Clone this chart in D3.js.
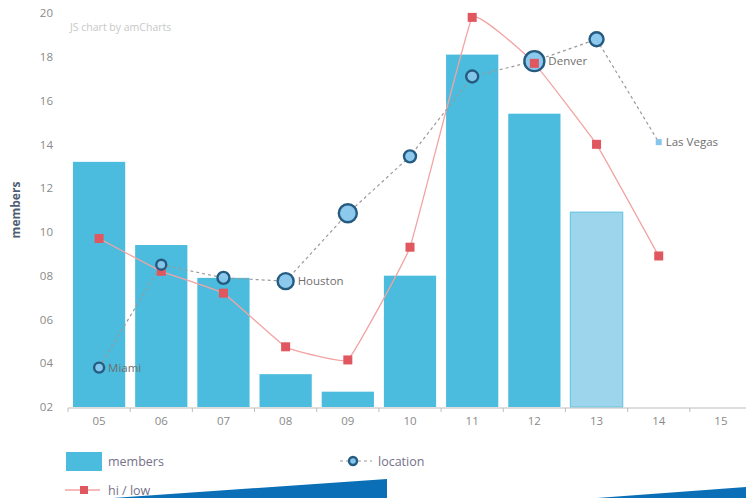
<!DOCTYPE html>
<html>
<head>
<meta charset="utf-8">
<script src="https://cdn.jsdelivr.net/npm/d3@7"></script>
<style>
  html, body { margin: 0; padding: 0; background: #fff; }
  svg { display: block; font-family: "Open Sans", "Noto Sans", sans-serif; }
</style>
</head>
<body>
<svg id="chart" width="746" height="498"></svg>
<script>
// ---- data ----
const categories  = ["05", "06", "07", "08", "09", "10", "11", "12", "13", "14", "15"];
const members     = [13.2, 9.4, 7.9, 3.5, 2.7, 8.0, 18.1, 15.4, 10.9, null, null];
const hiLow       = [9.7, 8.2, 7.2, 4.75, 4.15, 9.3, 19.8, 17.7, 14.0, 8.9, null];
const locationVal = [3.8, 8.5, 7.9, 7.75, 10.85, 13.45, 17.1, 17.8, 18.8, 14.1, null];
const townSize    = [5, 5, 6, 8, 9, 6, 6, 10, 7, 2, null];
const townName    = ["Miami", null, null, "Houston", null, null, null, "Denver", null, "Las Vegas", null];
const yTicks      = [2, 4, 6, 8, 10, 12, 14, 16, 18, 20];
const dashedBars  = [false, false, false, false, false, false, false, false, true, false, false];

// ---- layout ----
const svg = d3.select("#chart");
const x = d3.scaleBand().domain(categories).range([68, 752]).paddingInner(0.16).paddingOuter(0.08);
const xc = d => x(d) + x.bandwidth() / 2;
const y = d3.scaleLinear().domain([2, 20]).range([407, 13]);
const r = d3.scaleLinear().domain([0, 10]).range([0, 10]);

// credit
svg.append("text").attr("x", 70).attr("y", 31)
  .attr("font-size", 10.5).attr("fill", "#c8c8c8").text("JS chart by amCharts");

// y axis labels
const yAxis = d3.axisLeft(y).tickValues(yTicks).tickFormat(d3.format("02d")).tickSize(0).tickPadding(0);
const gy = svg.append("g").attr("transform", "translate(53,0)").call(yAxis);
gy.select(".domain").remove();
gy.selectAll("text").attr("font-size", 11.5).attr("fill", "#8a8a8a")
  .attr("font-family", "Open Sans, sans-serif");

svg.append("text").attr("transform", "translate(20,210) rotate(-90)")
  .attr("text-anchor", "middle").attr("font-size", 12).attr("font-weight", "bold")
  .attr("fill", "#4f5f73").text("members");

// bars
const barData = categories.map((c, i) => ({ c, v: members[i], light: dashedBars[i] })).filter(d => d.v != null);
svg.append("g").selectAll("rect").data(barData).join("rect")
  .attr("x", d => x(d.c)).attr("width", x.bandwidth())
  .attr("y", d => y(d.v)).attr("height", d => y(2) - y(d.v))
  .attr("fill", d => d.light ? "#9dd6ec" : "#4bbcdd")
  .attr("stroke", d => d.light ? "#6ec6e3" : "none").attr("stroke-width", 1.2);

// x axis
const xAxis = d3.axisBottom(x).tickSize(0).tickPadding(9);
const gx = svg.append("g").attr("transform", `translate(0,${y(2) + 1})`).call(xAxis);
gx.select(".domain").attr("stroke", "#bdbdbd").attr("d", "M68,0H746");
gx.selectAll("text").attr("font-size", 11.5).attr("fill", "#8a8a8a")
  .attr("font-family", "Open Sans, sans-serif");
const boundaries = categories.map(c => x(c) - x.step() * x.paddingInner() / 2);
gx.append("g").selectAll("line").data(boundaries).join("line")
  .attr("x1", d => d).attr("x2", d => d).attr("y1", 0).attr("y2", 4)
  .attr("stroke", "#bdbdbd");

// hi/low line
const hlData = categories.map((c, i) => ({ c, v: hiLow[i] })).filter(d => d.v != null);
svg.append("path").datum(hlData)
  .attr("d", d3.line().x(d => xc(d.c)).y(d => y(d.v)).curve(d3.curveCardinal.tension(0.75)))
  .attr("fill", "none").attr("stroke", "#f2a3a3").attr("stroke-width", 1.3);

// location line
const locData = categories.map((c, i) => ({ c, v: locationVal[i], s: townSize[i], n: townName[i] })).filter(d => d.v != null);
svg.append("path").datum(locData)
  .attr("d", d3.line().x(d => xc(d.c)).y(d => y(d.v)))
  .attr("fill", "none").attr("stroke", "#9a9a9a").attr("stroke-width", 1.2)
  .attr("stroke-dasharray", "3,3");

// hi/low squares
svg.append("g").selectAll("rect").data(hlData).join("rect")
  .attr("x", d => xc(d.c) - 4.5).attr("y", d => y(d.v) - 4.5)
  .attr("width", 9).attr("height", 9).attr("fill", "#e0575f");

// location bubbles
const big = locData.filter(d => d.s > 3);
const small = locData.filter(d => d.s <= 3);
svg.append("g").selectAll("circle").data(big).join("circle")
  .attr("cx", d => xc(d.c)).attr("cy", d => y(d.v)).attr("r", d => r(d.s))
  .attr("fill", "#86c6ec").attr("stroke", "#255b80").attr("stroke-width", 2.4)
  .attr("fill-opacity", 0.95);
svg.append("g").selectAll("rect").data(small).join("rect")
  .attr("x", d => xc(d.c) - r(d.s) - 1).attr("y", d => y(d.v) - r(d.s) - 1)
  .attr("width", d => 2 * r(d.s) + 2).attr("height", d => 2 * r(d.s) + 2)
  .attr("fill", "#86c6ec");

// hi/low square under Denver drawn on top (as in reference)
svg.append("g").selectAll("rect").data(hlData.filter(d => d.c === "12")).join("rect")
  .attr("x", d => xc(d.c) - 4.5).attr("y", d => y(d.v) - 4.5)
  .attr("width", 9).attr("height", 9).attr("fill", "#e0575f");

// town labels
svg.append("g").selectAll("text").data(locData.filter(d => d.n)).join("text")
  .attr("x", d => xc(d.c) + Math.max(r(d.s), 3) + 4).attr("y", d => y(d.v) + 4)
  .attr("font-size", 11.5).attr("fill", "#6f6f6f").text(d => d.n);

// legend
const lg = svg.append("g");
lg.append("rect").attr("x", 66).attr("y", 452).attr("width", 36).attr("height", 19).attr("fill", "#4bbcdd");
lg.append("text").attr("x", 108).attr("y", 466).attr("font-size", 12.5).attr("fill", "#77718a").text("members");

lg.append("line").attr("x1", 340).attr("x2", 372).attr("y1", 461).attr("y2", 461)
  .attr("stroke", "#9a9a9a").attr("stroke-width", 1.2).attr("stroke-dasharray", "3,3");
lg.append("circle").attr("cx", 353).attr("cy", 461).attr("r", 4)
  .attr("fill", "#86c6ec").attr("stroke", "#255b80").attr("stroke-width", 2.4);
lg.append("text").attr("x", 378).attr("y", 466).attr("font-size", 12.5).attr("fill", "#77718a").text("location");

lg.append("line").attr("x1", 65).attr("x2", 100).attr("y1", 490).attr("y2", 490)
  .attr("stroke", "#f2a3a3").attr("stroke-width", 1.3);
lg.append("rect").attr("x", 80).attr("y", 486).attr("width", 8).attr("height", 8).attr("fill", "#e0575f");
lg.append("text").attr("x", 108).attr("y", 495).attr("font-size", 12.5).attr("fill", "#77718a").text("hi / low");

// decorative blue shapes at the bottom of the photo
svg.append("polygon").attr("points", "113,498 387,479 387,498").attr("fill", "#0a6fb7");
svg.append("polygon").attr("points", "597,498 746,487 746,498").attr("fill", "#0a6fb7");
</script>
</body>
</html>
